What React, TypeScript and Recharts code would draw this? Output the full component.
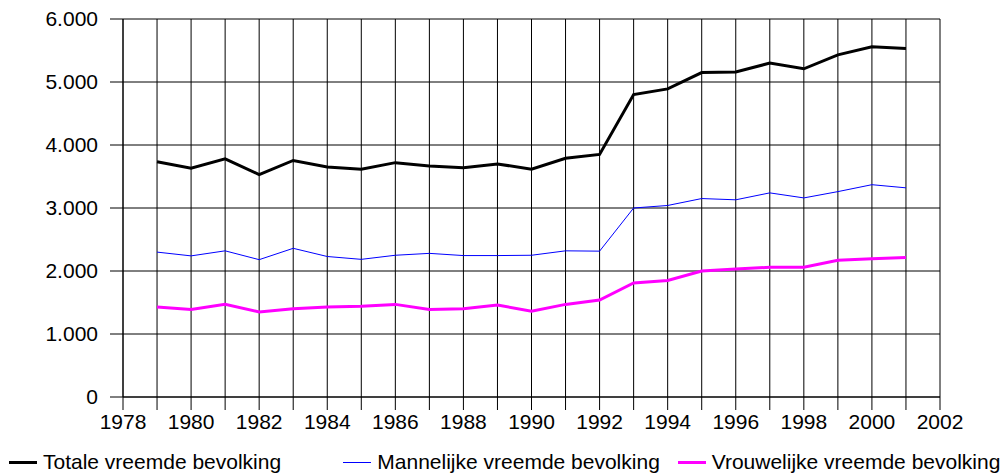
import React from "react"
import {
  LineChart,
  Line,
  XAxis,
  YAxis,
  CartesianGrid,
} from "recharts"

// jaren en waarden
const jaren = [1979, 1980, 1981, 1982, 1983, 1984, 1985, 1986, 1987, 1988, 1989, 1990, 1991, 1992, 1993, 1994, 1995, 1996, 1997, 1998, 1999, 2000, 2001]

const totaal = [3735, 3630, 3780, 3530, 3755, 3650, 3615, 3720, 3665, 3640, 3700, 3615, 3790, 3850, 4800, 4890, 5150, 5160, 5300, 5210, 5430, 5560, 5530]
const mannen = [2300, 2240, 2320, 2180, 2360, 2230, 2185, 2250, 2280, 2245, 2245, 2250, 2320, 2315, 3000, 3040, 3150, 3130, 3240, 3160, 3260, 3370, 3320]
const vrouwen = [1430, 1390, 1470, 1350, 1400, 1430, 1440, 1470, 1390, 1400, 1460, 1360, 1470, 1540, 1810, 1850, 2000, 2030, 2060, 2060, 2170, 2195, 2215]

const xTicks = [1978, 1979, 1980, 1981, 1982, 1983, 1984, 1985, 1986, 1987, 1988, 1989, 1990, 1991, 1992, 1993, 1994, 1995, 1996, 1997, 1998, 1999, 2000, 2001, 2002]
const yTicks = [0, 1000, 2000, 3000, 4000, 5000, 6000]

const reeksen = [
  { key: "totaal", naam: "Totale vreemde bevolking", kleur: "#000000", dikte: 3 },
  { key: "mannen", naam: "Mannelijke vreemde bevolking", kleur: "#0000ff", dikte: 1 },
  { key: "vrouwen", naam: "Vrouwelijke vreemde bevolking", kleur: "#ff00ff", dikte: 3 },
]

const data = jaren.map((jaar, i) => ({
  jaar,
  totaal: totaal[i],
  mannen: mannen[i],
  vrouwen: vrouwen[i],
}))

const FONT = "'Liberation Sans', Arial, sans-serif"

// 6000 -> "6.000"
function formatGetal(v: number): string {
  return String(v).replace(/\B(?=(\d{3})+(?!\d))/g, ".")
}

export default function App() {
  const tickStyle = { fill: "#000", fontSize: 21, fontFamily: FONT }

  return (
    <div style={{ position: "absolute", left: 0, top: 0, width: 1003, height: 475, background: "#fff" }}>
      <LineChart width={1003} height={475} data={data} margin={{ top: 19, right: 63, left: 0, bottom: 0 }}>
        <CartesianGrid stroke="#000" strokeWidth={1} />
        <XAxis
          dataKey="jaar"
          type="number"
          domain={[1978, 2002]}
          ticks={xTicks}
          interval={0}
          height={78}
          tickSize={13}
          tickMargin={4}
          tick={tickStyle}
          tickFormatter={(v: number) => (v % 2 === 0 ? String(v) : "")}
          axisLine={{ stroke: "#000" }}
          tickLine={{ stroke: "#000" }}
        />
        <YAxis
          domain={[0, 6000]}
          ticks={yTicks}
          interval={0}
          width={123}
          tickSize={13}
          tickMargin={12}
          tick={tickStyle}
          tickFormatter={formatGetal}
          axisLine={{ stroke: "#000" }}
          tickLine={{ stroke: "#000" }}
        />
        {reeksen.map((r) => (
          <Line
            key={r.key}
            type="linear"
            dataKey={r.key}
            name={r.naam}
            stroke={r.kleur}
            strokeWidth={r.dikte}
            dot={false}
            activeDot={false}
            isAnimationActive={false}
          />
        ))}
      </LineChart>
      {/* legenda: drie gelijke kolommen onder de grafiek */}
      <div style={{ position: "absolute", left: 0, top: 450, width: 1003, display: "flex", fontFamily: FONT, fontSize: 21, color: "#000" }}>
        {reeksen.map((r) => (
          <div key={r.key} style={{ width: 1003 / 3, display: "flex", alignItems: "center", paddingLeft: 9, boxSizing: "border-box", whiteSpace: "nowrap" }}>
            <span style={{ display: "inline-block", width: 28, height: r.dikte, background: r.kleur, marginRight: 6 }} />
            <span>{r.naam}</span>
          </div>
        ))}
      </div>
    </div>
  )
}
